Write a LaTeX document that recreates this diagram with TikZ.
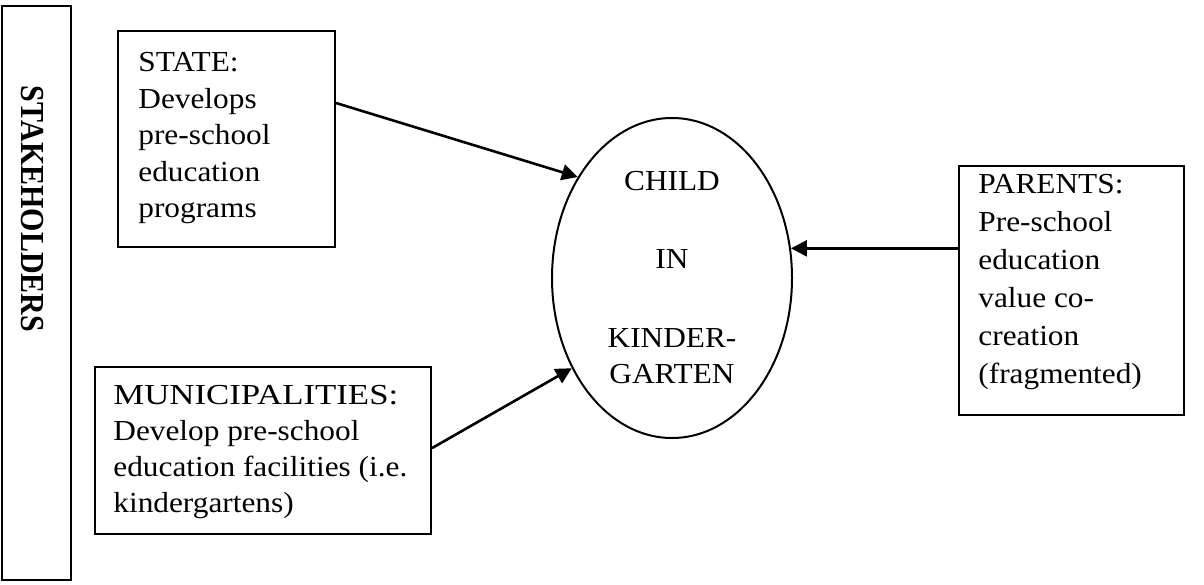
\documentclass[tikz,border=0pt]{standalone}
\usepackage{fontspec}
\setmainfont[FakeStretch=1.08]{Liberation Serif}
\newfontfamily\capfont[FakeStretch=1.2]{Liberation Serif}
\newfontfamily\stkfont{Liberation Serif}
\usetikzlibrary{shapes.geometric,arrows.meta}
\begin{document}
\begin{tikzpicture}[x=0.5pt,y=-0.5pt,
  frame/.style={draw,line width=1pt,inner sep=0pt},
  boxtext/.style={anchor=north west,inner sep=0pt,align=left},
  arr/.style={line width=1.3pt,-{Triangle[length=8pt,width=8pt]}}]
\useasboundingbox (0,0) rectangle (1204,584);
% stakeholders frame
\node[frame,minimum width=34.5pt,minimum height=287pt] (stk) at (36.5,293) {};
\node[rotate=-90,inner sep=0pt,font=\stkfont\bfseries\fontsize{15}{18}\selectfont] (stklabel) at (32,209) {\scalebox{1}[1.12]{STAKEHOLDERS}};
% boxes
\node[frame,minimum width=108.5pt,minimum height=108pt] (state) at (226.5,139) {};
\node[boxtext,font=\fontsize{14.5}{18.25}\selectfont] (statetext) at (138,52)
  {STATE:\\Develops\\pre-school\\education\\programs};
\node[frame,minimum width=168pt,minimum height=83.5pt] (muni) at (263,450.5) {};
\node[boxtext,font=\fontsize{14.5}{18}\selectfont] (munitext) at (113,385)
  {{\capfont MUNICIPALITIES:}\\Develop pre-school\\education facilities (i.e.\\kindergartens)};
\node[frame,minimum width=112.5pt,minimum height=124.5pt] (parents) at (1071.5,290.5) {};
\node[boxtext,font=\fontsize{14.5}{19}\selectfont] (parentstext) at (978,174)
  {PARENTS:\\Pre-school\\education\\value co-\\creation\\(fragmented)};
% child ellipse
\node[draw,ellipse,line width=1pt,minimum width=120pt,minimum height=160pt,inner sep=0pt,align=center,font=\fontsize{14.5}{18}\selectfont] (child) at (672,278)
  {CHILD\\[21pt]IN\\[21.5pt]KINDER-\\GARTEN};
% arrows
\draw[arr] ([yshift=18pt]state.east) -- (child.133);
\draw[arr] ([yshift=1.2pt]muni.east) -- (child.222);
\draw[arr] (parents.west |- child.14) -- (child.14);
\end{tikzpicture}
\end{document}
